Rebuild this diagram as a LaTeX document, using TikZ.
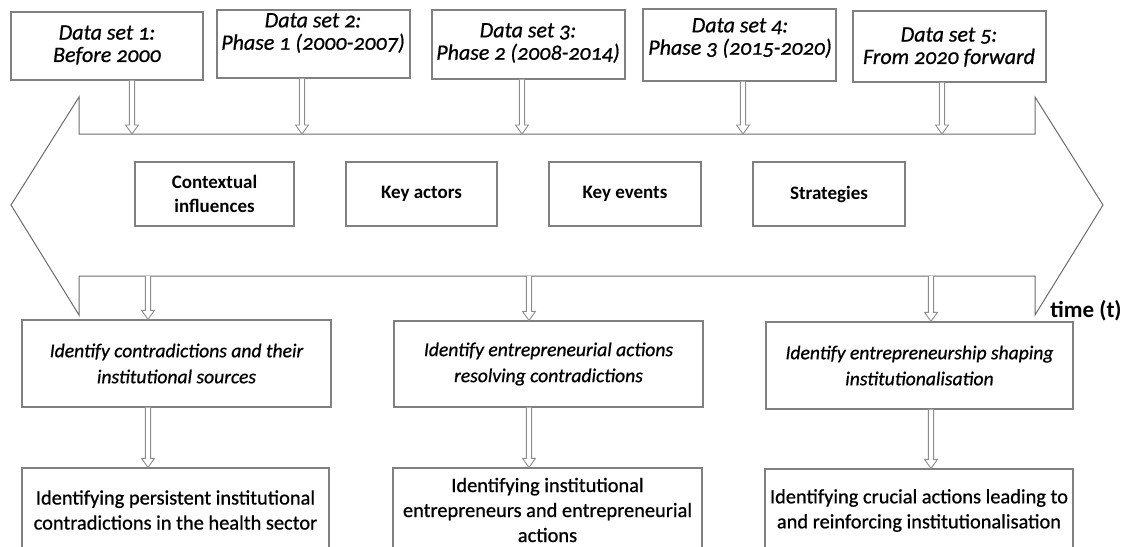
\documentclass[tikz,border=0pt]{standalone}
\usepackage{fontspec}
\setmainfont{Carlito}[Numbers=OldStyle]
\newfontfamily\medfont{Carlito}[Numbers=OldStyle, FakeBold=0.7]
\usetikzlibrary{calc}

\definecolor{linegray}{gray}{0.42}
\definecolor{boxgray}{gray}{0.5}
\definecolor{arrgray}{gray}{0.55}

% hollow block arrow pointing straight down from #1 to #2
\newcommand\harrow[2]{%
  \draw[harr] let \p1=(#1), \p2=(#2) in
    (\x1-1.3pt,\y1) -- (\x1-1.3pt,\y2+4.5pt) -- (\x1-3.2pt,\y2+4.5pt)
    -- (\x1,\y2) -- (\x1+3.2pt,\y2+4.5pt) -- (\x1+1.3pt,\y2+4.5pt) -- (\x1+1.3pt,\y1);}

\tikzset{
  harr/.style={draw=arrgray, line width=0.45pt, fill=white, line join=miter},
  bigarrow/.style={draw=linegray, line width=0.5pt, line join=miter},
  box/.style={draw=boxgray, line width=0.6pt, fill=white, inner sep=0pt, align=center},
  plain/.style={inner sep=0pt, align=center},
  toptxt/.style={plain, font=\medfont\fontsize{11}{11.2}\selectfont\itshape},
  midtxt/.style={font=\fontsize{9.5}{12}\selectfont\bfseries},
  tasktxt/.style={font=\medfont\fontsize{9.8}{13}\selectfont\itshape},
  restxt/.style={font=\medfont\fontsize{10.2}{12.5}\selectfont},
}

\begin{document}
\begin{tikzpicture}[x=0.5pt,y=-0.5pt]
\useasboundingbox (0,0) rectangle (1121,547);
\clip (0,0) rectangle (1121,547);

% double-headed time arrow
\draw[bigarrow] (79,134) -- (79,97) -- (11,205) -- (79,315) -- (79,276)
  -- (1035,276) -- (1035,315) -- (1103,205) -- (1035,97) -- (1035,134) -- cycle;
\node[plain, font=\fontsize{11.5}{12}\selectfont\bfseries, anchor=west] (time) at (1050,311) {time (t)};

% points where the data sets meet the time line
\coordinate (a1) at (132,134);
\coordinate (a2) at (302,134);
\coordinate (a3) at (522,134);
\coordinate (a4) at (743,134);
\coordinate (a5) at (942,134);
\coordinate (b1) at (148,276);
\coordinate (b2) at (529,276);
\coordinate (b3) at (931,276);

% data sets
\node[box, minimum width=96pt, minimum height=34pt] (t1) at (107,46) {};
\node[box, minimum width=96.5pt, minimum height=34pt] (t2) at (313.5,44) {};
\node[box, minimum width=96.5pt, minimum height=34.5pt] (t3) at (528.5,44.5) {};
\node[box, minimum width=96.5pt, minimum height=36pt] (t4) at (739.5,45) {};
\node[box, minimum width=96.5pt, minimum height=35.5pt] (t5) at (949.5,46.5) {};
\node[toptxt] (l1) at (107,45) {Data set 1:\\Before 2000};
\node[toptxt] (l2) at (313,33) {Data set 2:\\Phase 1 (2000-2007)};
\node[toptxt] (l3) at (528,43) {Data set 3:\\Phase 2 (2008-2014)};
\node[toptxt] (l4) at (740,38) {Data set 4:\\Phase 3 (2015-2020)};
\node[toptxt] (l5) at (949,47) {Data set 5:\\From 2020 forward};

% elements tracked along the time line
\node[box, midtxt, minimum width=79.5pt, minimum height=32pt] (c1) at (214.5,194) {Contextual\\influences};
\node[box, midtxt, minimum width=75.5pt, minimum height=32pt] (c2) at (421.5,194) {Key actors};
\node[box, midtxt, minimum width=76pt, minimum height=32pt] (c3) at (625,194) {Key events};
\node[box, midtxt, minimum width=76pt, minimum height=32pt] (c4) at (829,194) {Strategies};

% analysis steps
\node[box, tasktxt, minimum width=154.5pt, minimum height=43.5pt] (m1) at (176.5,363.5) {Identify contradictions and their\\institutional sources};
\node[box, tasktxt, minimum width=154.5pt, minimum height=43pt] (m2) at (548.5,364) {Identify entrepreneurial actions\\resolving contradictions};
\node[box, tasktxt, minimum width=153.5pt, minimum height=43.5pt] (m3) at (919.5,365.5) {Identify entrepreneurship shaping\\institutionalisation};

% outcomes
\node[box, restxt, minimum width=153.5pt, minimum height=42pt] (r1) at (175.5,510) {Identifying persistent institutional\\contradictions in the health sector};
\node[box, restxt, minimum width=154.5pt, minimum height=42pt] (r2) at (547.5,510) {Identifying institutional\\entrepreneurs and entrepreneurial\\actions};
\node[box, restxt, minimum width=154pt, minimum height=41.5pt] (r3) at (919,510.5) {Identifying crucial actions leading to\\and reinforcing institutionalisation};

% data sets feed the time line
\harrow{a1 |- t1.south}{a1}
\harrow{a2 |- t2.south}{a2}
\harrow{a3 |- t3.south}{a3}
\harrow{a4 |- t4.south}{a4}
\harrow{a5 |- t5.south}{a5}

% time line feeds the analysis steps
\harrow{b1}{b1 |- m1.north}
\harrow{b2}{b2 |- m2.north}
\harrow{b3}{b3 |- m3.north}

% analysis steps lead to outcomes
\harrow{b1 |- m1.south}{b1 |- r1.north}
\harrow{b2 |- m2.south}{b2 |- r2.north}
\harrow{b3 |- m3.south}{b3 |- r3.north}
\end{tikzpicture}
\end{document}
